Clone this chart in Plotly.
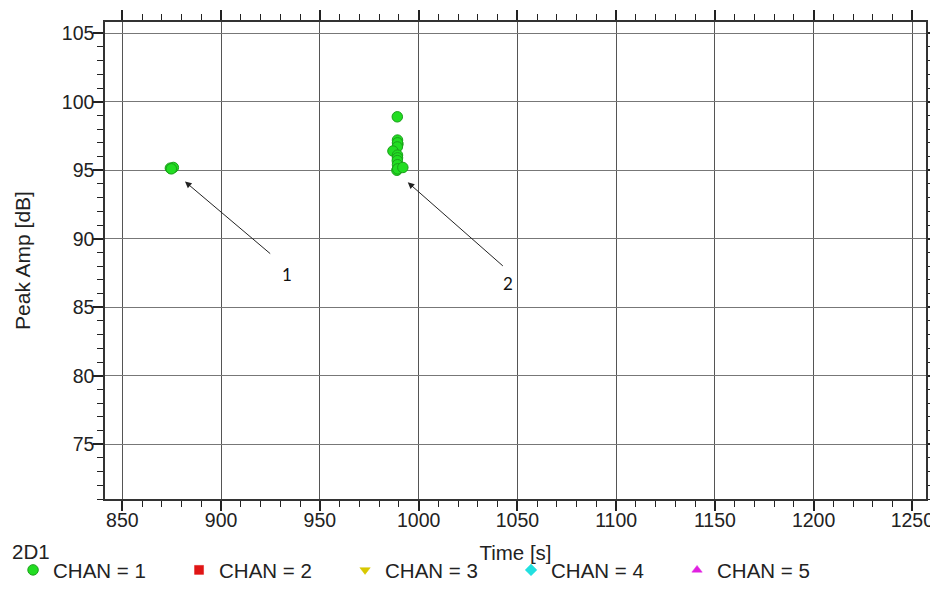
import plotly.graph_objects as go

# Data
time_ch1 = [874.3, 875.8, 874.8,
            989.2, 989.3, 989.5, 989.3, 989.2, 987.0, 989.3, 989.3,
            989.2, 989.3, 989.0, 989.4, 992.0]
amp_ch1 = [95.15, 95.2, 95.1,
           98.9, 97.2, 96.9, 97.0, 96.7, 96.4, 96.1, 95.9,
           95.7, 95.4, 95.0, 95.1, 95.2]

legend_names = ["CHAN = 1", "CHAN = 2", "CHAN = 3", "CHAN = 4", "CHAN = 5"]
legend_colors = ["#22dd22", "#e01515", "#d8c800", "#22e0e0", "#e020e0"]
legend_symbols = ["circle", "square", "triangle-down", "diamond", "triangle-up"]
legend_title = "2D1"

x_range = [841.2, 1256.9]
y_range = [71.0, 105.82]

# annotation arrows: (head_x, head_y, tail_x, tail_y, label, label_x, label_y)
arrows = [
    (881.7, 94.17, 925.6, 88.82, "1", 933.2, 87.36),
    (994.5, 94.12, 1043.4, 87.92, "2", 1045.4, 86.75),
]

FONT = "Liberation Sans, Arial, sans-serif"

fig = go.Figure()
fig.add_trace(go.Scatter(
    x=time_ch1, y=amp_ch1, mode="markers", name=legend_names[0],
    marker=dict(symbol=legend_symbols[0], size=10.5, color=legend_colors[0],
                line=dict(color="#1aa01a", width=1)),
))
for name, col, sym in zip(legend_names[1:], legend_colors[1:], legend_symbols[1:]):
    fig.add_trace(go.Scatter(
        x=[None], y=[None], mode="markers", name=name,
        marker=dict(symbol=sym, size=9, color=col, line=dict(color=col, width=0.5)),
    ))

for hx, hy, tx, ty, lab, lx, ly in arrows:
    fig.add_annotation(x=hx, y=hy, ax=tx, ay=ty, xref="x", yref="y",
                       axref="x", ayref="y", text="", showarrow=True,
                       arrowhead=2, arrowsize=1.3, arrowwidth=1, arrowcolor="#222")
    fig.add_annotation(x=lx, y=ly, xref="x", yref="y", text=lab, showarrow=False,
                       font=dict(family="Lato, Open Sans, sans-serif", size=17, color="#111"))

# legend title as a text annotation
fig.add_annotation(x=-0.1155, y=-0.111, xref="paper", yref="paper", xanchor="left",
                   yanchor="middle", text=legend_title, showarrow=False,
                   font=dict(family=FONT, size=20.5, color="#222"))

axis_common = dict(
    showline=True, linecolor="#333", linewidth=1.5, mirror="ticks",
    ticks="outside", ticklen=10, tickwidth=1.5, tickcolor="#222",
    showgrid=True, zeroline=False, automargin=False,
    tickfont=dict(family=FONT, size=19.5, color="#222"),
)

fig.update_xaxes(
    range=x_range, dtick=50, tick0=850, gridcolor="#555", gridwidth=1.3,
    minor=dict(dtick=10, ticks="outside", ticklen=6, tickwidth=1.2, tickcolor="#222",
               showgrid=False),
    ticklabelstandoff=-7,
    title=dict(text="Time [s]", font=dict(family=FONT, size=20.5, color="#222"), standoff=15),
    **axis_common,
)
fig.update_yaxes(
    range=y_range, dtick=5, tick0=75, gridcolor="#777", gridwidth=1.3,
    minor=dict(dtick=1, ticks="outside", ticklen=6, tickwidth=1.2, tickcolor="#222",
               showgrid=False),
    ticklabelstandoff=-5,
    title=dict(text="Peak Amp [dB]", font=dict(family=FONT, size=21, color="#222"), standoff=25),
    **axis_common,
)

# the page body adds an 8px margin, so the figure is sized to fit inside the window
fig.update_layout(
    width=930, height=574,
    margin=dict(l=97, r=12, t=14, b=83, autoexpand=False),
    paper_bgcolor="white", plot_bgcolor="white",
    showlegend=True,
    legend=dict(
        orientation="h", x=-0.112, xanchor="left", y=-0.149, yanchor="middle",
        font=dict(family=FONT, size=20.5, color="#222"),
        entrywidth=121, entrywidthmode="pixels", itemwidth=30,
        bgcolor="rgba(0,0,0,0)",
    ),
)

fig.write_html("out.html")
